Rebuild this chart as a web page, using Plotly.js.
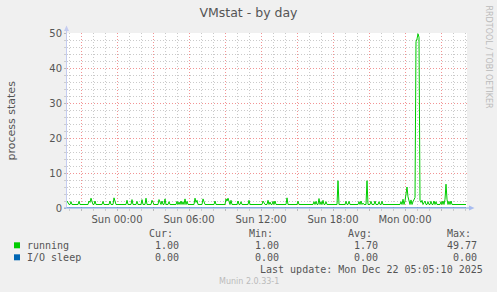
<!DOCTYPE html>
<html><head><meta charset="utf-8">
<script src="https://cdn.plot.ly/plotly-3.0.1.min.js"></script>
<style>html,body{margin:0;padding:0;background:#F0F0F0;}#chart{width:497px;height:292px;}</style>
</head><body><div id="chart"></div>
<script>
// ---- data (5-minute samples) ----
const startTime = '2025-12-20 19:50:00';
const stepMinutes = 5;
const seriesNames = ['running', 'I/O sleep'];
const seriesColors = ['#00CC00', '#0066B3'];
const running = [
 2.0,1.6,1,1,1.8,1,1,1,1,1,1,1,1.9,1,1,1,1,1,1,1,
 1,1,2.0,1.6,2.8,1.7,1,1,2.0,1,1,1,1,1,1,1,1.9,1,1,1,
 1,1,1,2.0,1,1,1,2.9,1.5,1,1,1,1,1,1,1,1,1,1,1,
 2.2,1,1,1,1,2.4,1,1,1,1,1.9,1,1,1,1,2.4,1,1,1,2.8,
 1,1,1,1,1,2.2,1.5,1,1,1,1,1,2.4,1.4,1,2.0,1,1,2.6,1,
 1,1,1.8,1,1,1,1,1,1,1,1.9,1,1.7,1,2.0,1,1.8,1,2.6,1,
 1.9,1,1,1,1,1,1,1,2.8,1.6,2.2,1,1,1,1,1,2.6,1.5,1,1,
 1,1,1,1,1,1,1,1,2.0,1,1,1,1,1,1,1,1,1,1,2.6,
 2.0,2.8,1.6,1,2.2,1,1,1,1,1,1,2.0,1,1,1.8,1,1,1,1,1,
 1,1,2.2,1,1,1,1,1,1,1,1,1,1,1,1,1,2.0,1.4,1,1,
 1,2.2,1,1.7,1,1,1.9,1,2.0,1,1,1,1,1,1,1,1,1,1,1,
 2.9,1,1,1,1,1,1,1,1,1,1,1.9,1,1,1,1,1,1,1,1,
 1,1,1,1,1,1,1,1.8,1,1.9,1,1,2.7,1,1.8,1,2.2,1,1,1.8,
 1,1,1,1,1,1,1,1,1,1,1,7.8,1,1,1,1,1,1,1,1.9,
 1,1,1.9,1,1,1,1,1,1,1,1,1,1.8,1,2.0,1,1.4,1,1,1,
 7.8,1,1,1,1.9,1,1,1,2.0,1,1,1,1.8,1,1,1.9,1,1,1,1,
 1,1,1,1,1,1,1,1,1,1,1,1,1,1,1.8,1,2.5,1,2.0,4.0,
 6.0,3.2,1.6,1,2.3,1,1.8,2.6,3.0,47.5,48.3,49.77,48.8,2.2,1.6,2.2,1,1.5,2.0,1,
 1,1.8,1,1,1.9,1,1,2.0,1,1.8,1,1,1,1,1.8,1,2.0,1,2.5,6.8,
 2.5,1,1.9,1,2.0,1,1,1,1,1,1,1,1,1,1,1,1,1,1,1
];
const ioSleep = [
 0,0,0,0,0,0,0,0,0,0,0,0,0,0,0,0,0,0,0,0, 0,0,0,0,0,0,0,0,0,0,0,0,0,0,0,0,0,0,0,0,
 0,0,0,0,0,0,0,0,0,0,0,0,0,0,0,0,0,0,0,0, 0,0,0,0,0,0,0,0,0,0,0,0,0,0,0,0,0,0,0,0,
 0,0,0,0,0,0,0,0,0,0,0,0,0,0,0,0,0,0,0,0, 0,0,0,0,0,0,0,0,0,0,0,0,0,0,0,0,0,0,0,0,
 0,0,0,0,0,0,0,0,0,0,0,0,0,0,0,0,0,0,0,0, 0,0,0,0,0,0,0,0,0,0,0,0,0,0,0,0,0,0,0,0,
 0,0,0,0,0,0,0,0,0,0,0,0,0,0,0,0,0,0,0,0, 0,0,0,0,0,0,0,0,0,0,0,0,0,0,0,0,0,0,0,0,
 0,0,0,0,0,0,0,0,0,0,0,0,0,0,0,0,0,0,0,0, 0,0,0,0,0,0,0,0,0,0,0,0,0,0,0,0,0,0,0,0,
 0,0,0,0,0,0,0,0,0,0,0,0,0,0,0,0,0,0,0,0, 0,0,0,0,0,0,0,0,0,0,0,0,0,0,0,0,0,0,0,0,
 0,0,0,0,0,0,0,0,0,0,0,0,0,0,0,0,0,0,0,0, 0,0,0,0,0,0,0,0,0,0,0,0,0,0,0,0,0,0,0,0,
 0,0,0,0,0,0,0,0,0,0,0,0,0,0,0,0,0,0,0,0, 0,0,0,0,0,0,0,0,0,0,0,0,0,0,0,0,0,0,0,0,
 0,0,0,0,0,0,0,0,0,0,0,0,0,0,0,0,0,0,0,0, 0,0,0,0,0,0,0,0,0,0,0,0,0,0,0,0,0,0,0,0
];
const endTime = '2025-12-22 05:10:00';
const xTickVals = ['2025-12-20 21:00','2025-12-21 00:00','2025-12-21 03:00','2025-12-21 06:00',
  '2025-12-21 09:00','2025-12-21 12:00','2025-12-21 15:00','2025-12-21 18:00',
  '2025-12-21 21:00','2025-12-22 00:00','2025-12-22 03:00'];
const xTickText = ['','Sun 00:00','','Sun 06:00','','Sun 12:00','','Sun 18:00','','Mon 00:00',''];
const statHeaders = ['Cur:','Min:','Avg:','Max:'];
const statsRunning = ['1.00','1.00','1.70','49.77'];
const statsIoSleep = ['0.00','0.00','0.00','0.00'];
const lastUpdate = 'Last update: Mon Dec 22 05:05:10 2025';
const footer = 'Munin 2.0.33-1';
const sideText = 'RRDTOOL / TOBI OETIKER';
const chartTitle = 'VMstat - by day';
const yTitle = 'process states';

// ---- build times ----
function pad(n){return (n<10?'0':'')+n;}
function fmt(ms){const d=new Date(ms);return d.getUTCFullYear()+'-'+pad(d.getUTCMonth()+1)+'-'+pad(d.getUTCDate())+' '+pad(d.getUTCHours())+':'+pad(d.getUTCMinutes())+':00';}
const t0 = Date.UTC(2025,11,20,19,50,0);
const times = running.map((v,i)=>fmt(t0 + i*stepMinutes*60000));
// hourly minor grid positions (skipping the 3-hour major ones)
const minorVals=[];
for(let ms=Date.UTC(2025,11,20,20,0,0); ms<=Date.UTC(2025,11,22,5,0,0); ms+=3600000){
  if(new Date(ms).getUTCHours()%3!==0) minorVals.push(fmt(ms));
}

// ---- layout geometry (pixels) ----
const W=497,H=292,L=67,R=467,T=33,B=208;
const px=x=>(x-L)/(R-L);
const py=y=>(B-y)/(B-T);

const mono={family:'DejaVu Sans Mono',size:10,color:'#555'};
const ann=[];
function txt(text,x,y,anchor,font,extra){
  ann.push(Object.assign({text:text,xref:'paper',yref:'paper',x:px(x),y:py(y),xanchor:anchor,yanchor:'middle',showarrow:false,font:font,borderpad:0,borderwidth:0},extra||{}));
}
const headX=[149,249,348,447], valX=[179,279,378,477];
statHeaders.forEach((h,i)=>txt(h,headX[i],233.3,'left',mono));
txt(seriesNames[0],27,245.7,'left',mono);
txt(seriesNames[1],27,257.7,'left',mono);
statsRunning.forEach((v,i)=>txt(v,valX[i],245.7,'right',mono));
statsIoSleep.forEach((v,i)=>txt(v,valX[i],257.7,'right',mono));
txt(lastUpdate,483,269.3,'right',mono);
txt(footer,248.5,281,'center',{family:'DejaVu Sans',size:8,color:'#bbb'});
txt(sideText,488,56.5,'center',{family:'DejaVu Sans',size:8,color:'#bbb'},{textangle:90});
txt(yTitle,11,120.5,'center',{family:'DejaVu Sans',size:11,color:'#555'},{textangle:-90});

const shapes=[
  {type:'rect',xref:'paper',yref:'paper',x0:px(14),x1:px(20),y0:py(248.3),y1:py(242.3),fillcolor:seriesColors[0],line:{width:0}},
  {type:'rect',xref:'paper',yref:'paper',x0:px(14),x1:px(20),y0:py(260.3),y1:py(254.3),fillcolor:seriesColors[1],line:{width:0}},
  // axis lines + arrows
  {type:'line',xref:'paper',yref:'paper',x0:px(66.5),x1:px(66.5),y0:py(208),y1:py(30),line:{color:'#C4CCF0',width:1}},
  {type:'path',xref:'paper',yref:'paper',path:'M'+px(64)+','+py(31)+' L'+px(66.5)+','+py(25.5)+' L'+px(69)+','+py(31)+' Z',fillcolor:'#C4CCF0',line:{width:0}},
  {type:'line',xref:'paper',yref:'paper',x0:px(64),x1:px(470),y0:py(208),y1:py(208),line:{color:'#8AA8E6',width:1}},
  {type:'path',xref:'paper',yref:'paper',path:'M'+px(469)+','+py(205.5)+' L'+px(474.5)+','+py(208)+' L'+px(469)+','+py(210.5)+' Z',fillcolor:'#A8BCF0',line:{width:0}}
];

const gridMajor='#F29494', gridMinor='#CACACA';
const tickFont={family:'DejaVu Sans',size:10,color:'#555'};
const layout={
  width:W,height:H,
  paper_bgcolor:'#F0F0F0',plot_bgcolor:'#FFFFFF',
  margin:{l:L,r:W-R,t:T,b:H-B,pad:0},
  showlegend:false,
  title:{text:chartTitle,x:0.5,xref:'container',xanchor:'center',y:1-13/H,yref:'container',yanchor:'middle',font:{family:'DejaVu Sans',size:12.5,color:'#555'}},
  xaxis2:{type:'date',range:[startTime,endTime],overlaying:'x',side:'bottom',tickmode:'array',tickvals:minorVals,
    showticklabels:false,showgrid:true,gridcolor:gridMinor,griddash:'1px,2px',gridwidth:1,
    ticks:'outside',ticklen:2,tickcolor:'#ccc',zeroline:false,showline:false,fixedrange:true},
  xaxis:{type:'date',range:[startTime,endTime],tickmode:'array',tickvals:xTickVals,ticktext:xTickText,
    showgrid:true,gridcolor:gridMajor,griddash:'1px,2px',gridwidth:1,
    ticks:'outside',ticklen:2,tickcolor:'#bbb',tickfont:tickFont,
    zeroline:false,showline:false,fixedrange:true},
  yaxis:{range:[0,50],tickmode:'linear',tick0:0,dtick:10,
    showgrid:true,gridcolor:gridMajor,griddash:'1px,2px',gridwidth:1,
    ticks:'outside',ticklen:2,tickcolor:'#bbb',tickfont:tickFont,
    minor:{tickmode:'linear',tick0:0,dtick:2,showgrid:true,gridcolor:gridMinor,griddash:'1px,2px',gridwidth:1,ticks:'outside',ticklen:2,tickcolor:'#ccc'},
    zeroline:false,showline:false,fixedrange:true},
  annotations:ann,
  shapes:shapes
};
const data=[
  {x:[startTime],y:[null],xaxis:'x2',yaxis:'y',type:'scatter',mode:'lines',hoverinfo:'skip'},
  {x:times,y:ioSleep,type:'scatter',mode:'lines',name:seriesNames[1],line:{color:seriesColors[1],width:1},hoverinfo:'skip'},
  {x:times,y:running,type:'scatter',mode:'lines',name:seriesNames[0],line:{color:seriesColors[0],width:1},hoverinfo:'skip'}
];
Plotly.newPlot('chart',data,layout,{staticPlot:true,displayModeBar:false});
</script></body></html>
